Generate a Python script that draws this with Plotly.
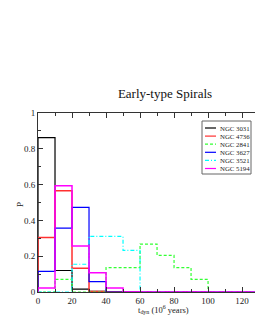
import plotly.graph_objects as go

# Bin edges (10^6 years) and histogram probabilities per galaxy
bin_edges = [0, 10, 20, 30, 40, 50, 60, 70, 80, 90, 100, 110, 120, 130]
names = ["NGC 3031", "NGC 4736", "NGC 2841", "NGC 3627", "NGC 3521", "NGC 5194"]
ngc3031 = [0.862, 0.120, 0.016, 0.003, 0, 0, 0, 0, 0, 0, 0, 0, 0]
ngc4736 = [0.305, 0.566, 0.132, 0.003, 0, 0, 0, 0, 0, 0, 0, 0, 0]
ngc2841 = [0, 0.070, 0, 0, 0.136, 0.136, 0.268, 0.205, 0.136, 0.071, 0, 0, 0]
ngc3627 = [0.115, 0.357, 0.473, 0.058, 0, 0, 0, 0, 0, 0, 0, 0, 0]
ngc3521 = [0, 0, 0.155, 0.311, 0.311, 0.233, 0, 0, 0, 0, 0, 0, 0]
ngc5194 = [0.022, 0.594, 0.257, 0.108, 0.022, 0, 0, 0, 0, 0, 0, 0, 0]
series = [ngc3031, ngc4736, ngc2841, ngc3627, ngc3521, ngc5194]
x_ticks = [0, 20, 40, 60, 80, 100, 120]
y_ticks = [0, 0.2, 0.4, 0.6, 0.8, 1]

colors = ["#000000", "#ff3030", "#33ff33", "#0000ff", "#00ffff", "#ff00ff"]
dashes = ["solid", "solid", "3px,2px", "solid", "4px,2px,1px,2px", "solid"]
widths = [1.2, 1.5, 1.2, 1.2, 1.2, 1.5]

W, H = 255, 330
ML, MR, MT, MB = 38, 0, 113, 38
PW, PH = W - ML - MR, H - MT - MB

def px(x):  # window pixel -> paper x
    return (x - ML) / PW

def py(y):  # window pixel -> paper y
    return (H - MB - y) / PH

fig = go.Figure()
for name, vals, c, d, w in zip(names, series, colors, dashes, widths):
    xs = [bin_edges[0]] + bin_edges
    ys = [0] + vals + [0]
    fig.add_trace(go.Scatter(x=xs, y=ys, mode="lines", name=name, showlegend=False,
                             line=dict(shape="hv", color=c, dash=d, width=w)))

serif = "Liberation Serif, Times New Roman, serif"
fig.update_layout(
    width=W, height=H,
    margin=dict(l=ML, r=MR, t=MT, b=MB),
    paper_bgcolor="white", plot_bgcolor="white",
    font=dict(family=serif, color="#222222", size=9),
    showlegend=False,
    title=dict(text="Early-type Spirals", x=px(165), xref="paper", xanchor="center",
               y=1 - 93 / H, yref="container", yanchor="middle",
               font=dict(family=serif, size=13, color="#111111")),
)
fig.update_xaxes(range=[0, 127.6], tickvals=x_ticks, ticks="inside", ticklen=5,
                 tickcolor="#333333", showline=True, linecolor="#333333", linewidth=1,
                 mirror="ticks", showgrid=False, zeroline=False,
                 minor=dict(dtick=10, ticks="inside", ticklen=3, tickcolor="#333333"),
                 tickfont=dict(family=serif, size=9))
fig.update_yaxes(range=[0, 1], tickvals=y_ticks, ticks="inside", ticklen=5,
                 tickcolor="#333333", showline=True, linecolor="#333333", linewidth=1,
                 showgrid=False, zeroline=False,
                 minor=dict(dtick=0.1, ticks="inside", ticklen=3, tickcolor="#333333"),
                 tickfont=dict(family=serif, size=9))
fig.add_annotation(text="t<sub>dyn</sub> (10<sup>6</sup> years)", xref="paper", yref="paper",
                   x=px(163), y=py(309), xanchor="center", yanchor="middle", showarrow=False,
                   font=dict(family=serif, size=8.5, color="#222222"))
fig.add_annotation(text="P", xref="paper", yref="paper", x=px(20), y=py(205),
                   xanchor="center", yanchor="middle", textangle=-90, showarrow=False,
                   font=dict(family=serif, size=9, color="#222222"))

# Compact legend box drawn by hand
fig.add_shape(type="rect", xref="paper", yref="paper",
              x0=px(202), x1=px(251), y0=py(174), y1=py(121),
              line=dict(color="#666666", width=1), fillcolor="white", layer="above")
for i, (name, c, d) in enumerate(zip(names, colors, dashes)):
    yy = 128 + i * 8.1
    fig.add_shape(type="line", xref="paper", yref="paper",
                  x0=px(205), x1=px(216), y0=py(yy), y1=py(yy),
                  line=dict(color=c, dash=d, width=1.2), layer="above")
    fig.add_annotation(text=name, xref="paper", yref="paper", x=px(218), y=py(yy),
                       xanchor="left", yanchor="middle", showarrow=False,
                       font=dict(family=serif, size=6.8, color="#222222"))

fig.write_html("out.html", config={"displayModeBar": False},
               post_script="document.body.style.margin='0';")
